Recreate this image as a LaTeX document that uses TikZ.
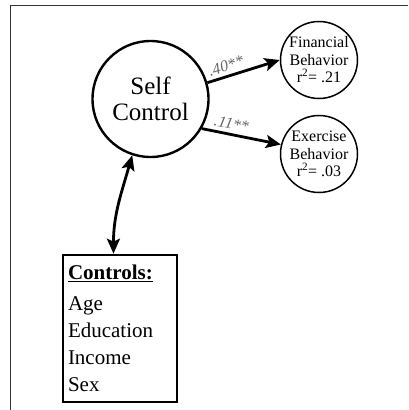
\documentclass[tikz,border=0pt]{standalone}
\usepackage{fontspec}
\setmainfont{Liberation Serif}
\usetikzlibrary{arrows.meta}
\begin{document}
\begin{tikzpicture}
[x=1pt,y=-1pt,
latent/.style={circle,draw,inner sep=0pt,align=center},
big/.style={latent,line width=2.4pt,minimum size=116pt,font=\fontsize{25}{26}\selectfont},
small/.style={latent,line width=1.5pt,minimum size=77pt,font=\fontsize{16}{17.5}\selectfont},
path/.style={line width=2.8pt,-{Stealth[length=15pt,width=13pt,inset=3pt]}},
coef/.style={sloped,above,text=black!60,font=\itshape\fontsize{16}{16}\selectfont,inner sep=3.5pt}]
\useasboundingbox (0,0) rectangle (408,410);
\draw[line width=1pt,black!80] (10,410) -- (10,5) -- (408,5);
\node[big] (sc) at (150.5,99) {Self\\Control};
\node[small] (fin) at (319,60) {Financial\\Behavior\\r\textsuperscript{2}= .21};
\node[small] (ex) at (319,154) {Exercise\\Behavior\\r\textsuperscript{2}= .03};
\node[draw,line width=2.6pt,minimum width=114pt,minimum height=147pt,text width=104pt,
  align=left,inner sep=4pt,font=\fontsize{21}{27}\selectfont] (ctrl) at (120,328.5)
  {\underline{\textbf{Controls:}}\\[4pt]Age\\Education\\Income\\Sex};
\draw[path] (sc.16) -- node[coef,pos=0.3] {.40**} (fin.west);
\draw[path] (sc.-30) -- node[coef,pos=0.35] {.11**} (ex.166);
\draw[path,{Stealth[length=15pt,width=13pt,inset=3pt]}-{Stealth[length=15pt,width=13pt,inset=3pt]}]
  (sc.-108) to[out=-106,in=90] (ctrl.95);
\end{tikzpicture}
\end{document}
